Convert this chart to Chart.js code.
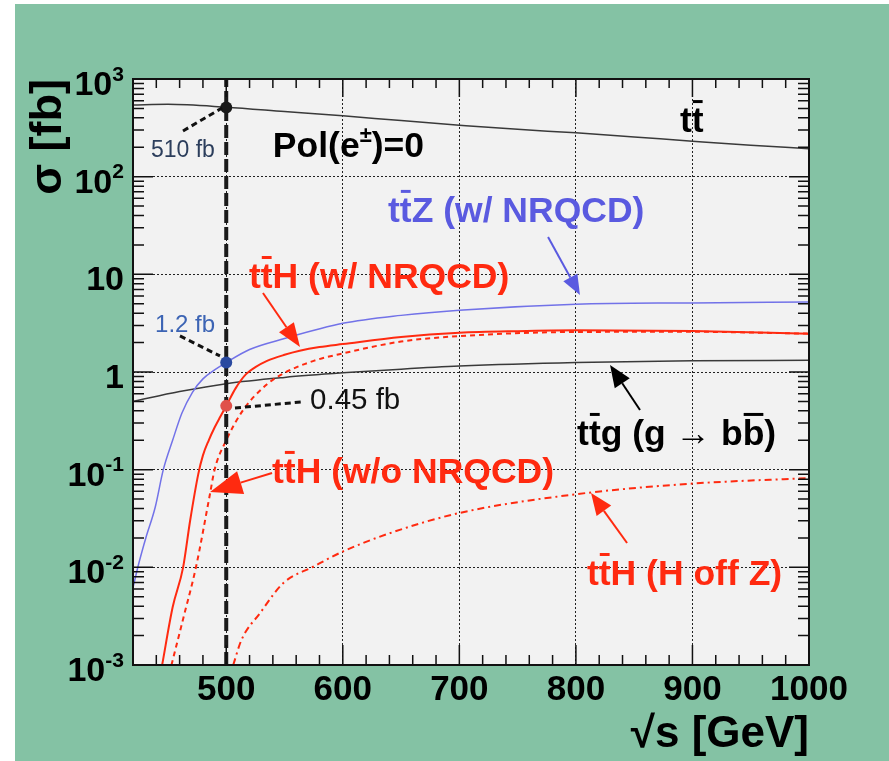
<!DOCTYPE html>
<html>
<head>
<meta charset="utf-8">
<script src="https://cdn.jsdelivr.net/npm/chart.js@4.4.1/dist/chart.umd.min.js"></script>
<style>
  html, body { margin: 0; padding: 0; background: #fff; }
  #wrap { width: 889px; height: 761px; }
</style>
</head>
<body>
<div id="wrap"><canvas id="xsec"></canvas></div>
<script>
// sqrt(s) in GeV, cross sections in fb
const ttbarE = [420, 450, 500, 550, 600, 650, 700, 750, 800, 850, 900, 950, 1000];
const ttbarSigma = [541, 550, 515, 465, 420, 375, 337, 305, 281, 255, 231, 210, 193];

const ttzE = [420, 425, 431, 439, 446, 454, 462, 471, 480, 490, 500, 520, 550, 600, 650, 700, 800, 900, 1000];
const ttzSigma = [0.0062, 0.011, 0.02, 0.041, 0.1, 0.2, 0.38, 0.62, 0.85, 1.05, 1.25, 1.7, 2.2, 3.15, 3.8, 4.3, 4.95, 5.1, 5.2];

const tthE = [445, 454, 463, 469, 476, 480, 485, 490, 495, 500, 508, 517, 525, 535, 550, 563, 580, 600, 650, 700, 750, 800, 900, 1000];
const tthSigma = [0.001, 0.0039, 0.01, 0.03, 0.09, 0.14, 0.2, 0.27, 0.35, 0.45, 0.68, 0.95, 1.12, 1.3, 1.5, 1.65, 1.8, 1.93, 2.28, 2.52, 2.62, 2.67, 2.63, 2.47];

const tthNoNrqcdE = [453, 464, 474, 486, 490, 500, 514, 535, 550, 575, 600, 650, 700, 800, 900, 1000];
const tthNoNrqcdSigma = [0.001, 0.0033, 0.01, 0.056, 0.1, 0.2, 0.4, 0.75, 0.98, 1.3, 1.55, 2.05, 2.33, 2.57, 2.58, 2.47];

const tthOffZE = [506, 513, 529, 549, 575, 600, 640, 700, 800, 900, 1000];
const tthOffZSigma = [0.001, 0.0018, 0.0034, 0.0069, 0.0102, 0.0145, 0.0223, 0.036, 0.056, 0.072, 0.082];

const ttgE = [420, 460, 500, 550, 600, 650, 700, 800, 900, 1000];
const ttgSigma = [0.5, 0.63, 0.76, 0.88, 0.98, 1.07, 1.15, 1.25, 1.3, 1.32];

// values quoted at sqrt(s) = 500 GeV
const markerE = 500;
const markerSigma = [510, 1.25, 0.45];
const markerText = ['510 fb', '1.2 fb', '0.45 fb'];

const xTicks = [500, 600, 700, 800, 900, 1000];
const yTicks = [1e-3, 1e-2, 1e-1, 1, 10, 1e2, 1e3];
const yTickLabels = ['10^-3', '10^-2', '10^-1', '1', '10', '10^2', '10^3'];

const FONT = "'Liberation Sans', Arial, Helvetica, sans-serif";
const RED = '#ff2a10';
const BLUE = '#5a5ae0';
const LABEL = 35.5;

const pts = (xs, ys) => xs.map((x, i) => ({ x: x, y: ys[i] }));

// text labels placed in data units [GeV, fb]
const notes = [
  { at: [889.3, 286], parts: [['t'], ['t', 'bar']], color: '#000', size: LABEL, weight: 'bold' },
  { at: [540, 159], parts: [['Pol(e'], ['\u00B1', 'sup'], [')=0']], color: '#000', size: LABEL, weight: 'bold' },
  { at: [638.8, 34.4], parts: [['t'], ['t', 'bar'], ['Z (w/ NRQCD)']], color: BLUE, size: LABEL, weight: 'bold' },
  { at: [519.5, 7.24], parts: [['t'], ['t', 'bar'], ['H (w/ NRQCD)']], color: RED, size: LABEL, weight: 'bold' },
  { at: [539.3, 0.0731], parts: [['t'], ['t', 'bar'], ['H (w/o NRQCD)']], color: RED, size: LABEL, weight: 'bold' },
  { at: [801, 0.179], parts: [['t'], ['t', 'bar'], ['g (g '], ['\u2192', 'thin'], [' b'], ['b', 'bar'], [')']], color: '#000', size: LABEL, weight: 'bold' },
  { at: [809.5, 0.00659], parts: [['t'], ['t', 'bar'], ['H (H off Z)']], color: RED, size: LABEL, weight: 'bold' },
  { at: [435.4, 159], parts: [[markerText[0]]], color: '#2c3e5c', size: 23, weight: 'normal' },
  { at: [438.9, 2.57], parts: [[markerText[1]]], color: '#3c64b4', size: 24, weight: 'normal' },
  { at: [571.9, 0.418], parts: [[markerText[2]]], color: '#111', size: 29.5, weight: 'normal' }
];

const leaders = [
  [[462.9, 294], [496.4, 505]],
  [[460.3, 2.34], [494.6, 1.46]],
  [[507.5, 0.428], [564.1, 0.493]]
];

const arrows = [
  { from: [776.1, 24.1], to: [803.5, 6.14], color: BLUE, len: 20, half: 8 },
  { from: [531.5, 6.44], to: [563.3, 1.80], color: RED, len: 24, half: 9 },
  { from: [539.3, 0.0925], to: [486.1, 0.059], color: RED, len: 32, half: 12 },
  { from: [855, 0.408], to: [829.3, 1.18], color: '#000', len: 22, half: 9 },
  { from: [843.9, 0.01774], to: [813, 0.0577], color: RED, len: 22, half: 9 }
];

function partsWidth(ctx, n) {
  let w = 0;
  for (const [t, mode] of n.parts) {
    const fs = mode === 'sup' ? n.size * 0.62 : n.size;
    ctx.font = (mode === 'thin' ? 'normal' : n.weight) + ' ' + fs + 'px ' + FONT;
    w += ctx.measureText(t).width;
  }
  return w;
}

function drawParts(ctx, x, y, n) {
  ctx.fillStyle = n.color;
  ctx.strokeStyle = n.color;
  ctx.textBaseline = 'alphabetic';
  ctx.textAlign = 'left';
  for (const [t, mode] of n.parts) {
    const fs = mode === 'sup' ? n.size * 0.62 : n.size;
    ctx.font = (mode === 'thin' ? 'normal' : n.weight) + ' ' + fs + 'px ' + FONT;
    const dy = mode === 'sup' ? -n.size * 0.42 : 0;
    ctx.fillText(t, x, y + dy);
    const w = ctx.measureText(t).width;
    if (mode === 'bar') {
      ctx.lineWidth = 3;
      ctx.beginPath();
      ctx.moveTo(x + 1, y - n.size * 0.86);
      ctx.lineTo(x + w - 1, y - n.size * 0.86);
      ctx.stroke();
    }
    x += w;
  }
}

function drawArrow(ctx, x0, y0, x1, y1, a) {
  const ang = Math.atan2(y1 - y0, x1 - x0);
  const bx = x1 - a.len * Math.cos(ang), by = y1 - a.len * Math.sin(ang);
  ctx.strokeStyle = a.color;
  ctx.fillStyle = a.color;
  ctx.lineWidth = 2;
  ctx.setLineDash([]);
  ctx.beginPath();
  ctx.moveTo(x0, y0);
  ctx.lineTo(bx, by);
  ctx.stroke();
  ctx.beginPath();
  ctx.moveTo(x1, y1);
  ctx.lineTo(bx + a.half * Math.sin(ang), by - a.half * Math.cos(ang));
  ctx.lineTo(bx - a.half * Math.sin(ang), by + a.half * Math.cos(ang));
  ctx.closePath();
  ctx.fill();
}

const rootStyle = {
  id: 'rootStyle',
  beforeDraw(chart) {
    const { ctx, chartArea: a, width, height } = chart;
    ctx.save();
    ctx.fillStyle = '#fff';
    ctx.fillRect(0, 0, width, height);
    ctx.fillStyle = '#84c2a4';
    ctx.fillRect(15, 4, width - 15, height - 4);
    ctx.fillStyle = '#f2f2f2';
    ctx.fillRect(a.left, a.top, a.right - a.left, a.bottom - a.top);
    ctx.restore();
  },
  afterDatasetsDraw(chart) {
    const { ctx, chartArea: a } = chart;
    const xs = chart.scales.x, ys = chart.scales.y;
    const X = v => xs.getPixelForValue(v), Y = v => ys.getPixelForValue(v);
    ctx.save();

    // inward ticks on all four sides, like ROOT
    ctx.strokeStyle = '#111';
    ctx.lineWidth = 1.5;
    ctx.setLineDash([]);
    ctx.beginPath();
    for (let e = 440; e < 1000; e += 20) {
      const len = e % 100 === 0 ? 20 : 10;
      const px = X(e);
      ctx.moveTo(px, a.bottom); ctx.lineTo(px, a.bottom - len);
      ctx.moveTo(px, a.top); ctx.lineTo(px, a.top + len * 0.9);
    }
    for (let d = -3; d < 3; d++) {
      for (let k = 1; k < 10; k++) {
        const py = Y(k * Math.pow(10, d));
        const len = k === 1 ? 20 : 11;
        ctx.moveTo(a.left, py); ctx.lineTo(a.left + len, py);
        ctx.moveTo(a.right, py); ctx.lineTo(a.right - len, py);
      }
    }
    ctx.stroke();

    // frame
    ctx.lineWidth = 2;
    ctx.strokeRect(a.left, a.top, a.right - a.left, a.bottom - a.top);

    // y tick labels with raised exponents
    yTicks.forEach((v, i) => {
      const [base, exp] = yTickLabels[i].split('^');
      const n = { parts: exp ? [[base], [exp, 'sup']] : [[base]], color: '#000', size: 34, weight: 'bold' };
      const w = partsWidth(ctx, n);
      drawParts(ctx, a.left - 9 - w, Y(v) + 16, n);
    });

    // leaders from the quoted numbers to the markers
    ctx.strokeStyle = '#111';
    ctx.lineWidth = 3;
    ctx.setLineDash([6, 4]);
    for (const [p, q] of leaders) {
      ctx.beginPath();
      ctx.moveTo(X(p[0]), Y(p[1]));
      ctx.lineTo(X(q[0]), Y(q[1]));
      ctx.stroke();
    }
    ctx.setLineDash([]);

    for (const ar of arrows) {
      drawArrow(ctx, X(ar.from[0]), Y(ar.from[1]), X(ar.to[0]), Y(ar.to[1]), ar);
    }
    for (const n of notes) {
      drawParts(ctx, X(n.at[0]), Y(n.at[1]), n);
    }
    ctx.restore();
  }
};

new Chart(document.getElementById('xsec'), {
  type: 'line',
  data: {
    datasets: [
      {
        label: 'quoted values',
        type: 'scatter',
        data: markerSigma.map(s => ({ x: markerE, y: s })),
        pointRadius: 6,
        pointBackgroundColor: ['#1a1a1a', '#2a4aa0', '#e0504a'],
        pointBorderWidth: 0,
        order: 0
      },
      {
        label: 'sqrt(s) = 500 GeV',
        data: [{ x: markerE, y: yTicks[0] }, { x: markerE, y: yTicks[yTicks.length - 1] }],
        borderColor: '#1a1a1a',
        borderWidth: 4,
        borderDash: [13, 4],
        pointRadius: 0,
        order: 1
      },
      {
        label: 'ttbar',
        data: pts(ttbarE, ttbarSigma),
        borderColor: '#3a3a3a',
        borderWidth: 1.5,
        pointRadius: 0,
        cubicInterpolationMode: 'monotone',
        order: 2
      },
      {
        label: 'ttZ (w/ NRQCD)',
        data: pts(ttzE, ttzSigma),
        borderColor: '#7272e8',
        borderWidth: 1.5,
        pointRadius: 0,
        cubicInterpolationMode: 'monotone',
        order: 2
      },
      {
        label: 'ttH (w/ NRQCD)',
        data: pts(tthE, tthSigma),
        borderColor: RED,
        borderWidth: 2,
        pointRadius: 0,
        cubicInterpolationMode: 'monotone',
        order: 2
      },
      {
        label: 'ttH (w/o NRQCD)',
        data: pts(tthNoNrqcdE, tthNoNrqcdSigma),
        borderColor: RED,
        borderWidth: 2,
        borderDash: [5, 4],
        pointRadius: 0,
        cubicInterpolationMode: 'monotone',
        order: 2
      },
      {
        label: 'ttH (H off Z)',
        data: pts(tthOffZE, tthOffZSigma),
        borderColor: RED,
        borderWidth: 2,
        borderDash: [7, 4, 2, 4],
        pointRadius: 0,
        cubicInterpolationMode: 'monotone',
        order: 2
      },
      {
        label: 'ttg (g -> bb)',
        data: pts(ttgE, ttgSigma),
        borderColor: '#3a3a3a',
        borderWidth: 1.5,
        pointRadius: 0,
        cubicInterpolationMode: 'monotone',
        order: 2
      }
    ]
  },
  options: {
    responsive: true,
    maintainAspectRatio: false,
    animation: false,
    layout: { padding: { top: 79, right: 80, left: 0, bottom: 0 } },
    plugins: {
      legend: { display: false },
      tooltip: { enabled: false }
    },
    scales: {
      x: {
        type: 'linear',
        min: 420,
        max: 1000,
        afterBuildTicks: scale => { scale.ticks = xTicks.map(v => ({ value: v })); },
        afterFit: scale => { scale.height = 96; },
        grid: { color: '#222', lineWidth: 1, drawTicks: false },
        border: { display: false, dash: [2, 2] },
        ticks: {
          autoSkip: false,
          maxRotation: 0,
          padding: 4,
          color: '#000',
          font: { family: FONT, size: 35, weight: 'bold' },
          callback: v => String(v)
        },
        title: {
          display: true,
          text: '\u221As [GeV]',
          align: 'end',
          color: '#000',
          padding: { top: 0, bottom: 0 },
          font: { family: FONT, size: 44, weight: 'bold' }
        }
      },
      y: {
        type: 'logarithmic',
        min: 1e-3,
        max: 1e3,
        afterBuildTicks: scale => { scale.ticks = yTicks.map(v => ({ value: v })); },
        afterFit: scale => { scale.width = 133; },
        grid: { color: '#222', lineWidth: 1, drawTicks: false },
        border: { display: false, dash: [2, 2] },
        ticks: { display: false },
        title: {
          display: true,
          text: '\u03C3 [fb]',
          align: 'end',
          color: '#000',
          padding: { top: 22, bottom: 0 },
          font: { family: FONT, size: 45, weight: 'bold' }
        }
      }
    }
  },
  plugins: [rootStyle]
});
</script>
</body>
</html>
